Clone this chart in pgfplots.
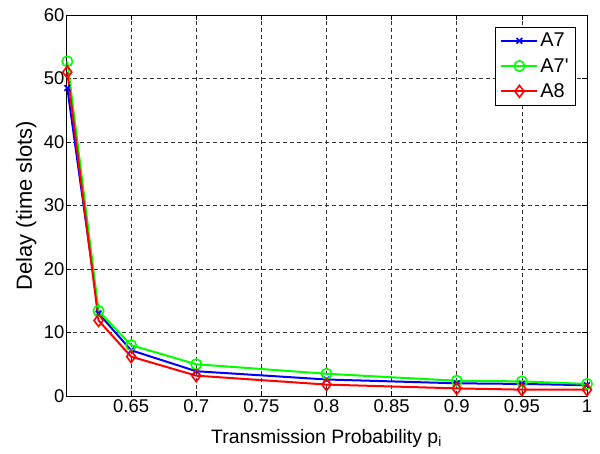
\documentclass[border=0pt]{standalone}
\usepackage{fontspec}
\setmainfont{Liberation Sans}
\usepackage{pgfplots}
\pgfplotsset{compat=1.18}

\begin{document}
\begin{tikzpicture}
\begin{axis}[
  scale only axis,
  width=521bp, height=381bp,
  xmin=0.6, xmax=1, ymin=0, ymax=60,
  xtick={0.65,0.7,0.75,0.8,0.85,0.9,0.95,1},
  xticklabels={0.65,0.7,0.75,0.8,0.85,0.9,0.95,1},
  ytick={0,10,20,30,40,50,60},
  /pgf/number format/assume math mode=true,
  tick label style={font=\fontsize{18.5}{20}\selectfont},
  yticklabel style={xshift=2bp},
  tick align=inside, major tick length=5bp,
  tick style={black, line width=0.6bp},
  axis line style={black, line width=0.9bp},
  grid=major,
  major grid style={black!80, dashed, line width=0.6bp, dash pattern=on 4bp off 3bp},
  xlabel={Transmission Probability p$_{\mathrm{i}}$},
  ylabel={Delay (time slots)},
  xlabel style={font=\fontsize{19.5}{22}\selectfont, at={(axis description cs:0.5,-0.1234)}, anchor=base},
  ylabel style={font=\fontsize{22}{24}\selectfont, at={(axis description cs:-0.0653,0.5)}, anchor=base},
  legend style={at={(axis description cs:0.979,0.969)}, anchor=north east,
    draw=black, line width=0.9bp, fill=white, font=\fontsize{20}{22}\selectfont,
    row sep=6bp, inner xsep=5bp, inner ysep=4bp},
  legend cell align=left,
  legend image code/.code={\draw[mark repeat=2,mark phase=2,#1] plot coordinates {(0bp,0bp) (18bp,0bp) (36bp,0bp)};},
]
\addplot[blue, line width=2bp, mark=x, mark size=4bp, mark options={line width=1.6bp}]
  coordinates {(0.601,48.5) (0.625,13.0) (0.65,7.2) (0.7,3.9) (0.8,2.6) (0.9,2.0) (0.95,1.9) (1,1.7)};
\addlegendentry{A7}
\addplot[green, line width=2bp, mark=o, mark size=5.2bp, mark options={line width=1.6bp}]
  coordinates {(0.601,52.7) (0.625,13.4) (0.65,8.0) (0.7,5.0) (0.8,3.5) (0.9,2.4) (0.95,2.3) (1,1.9)};
\addlegendentry{A7\textquotesingle}
\addplot[red, line width=2bp, mark=diamond, mark size=6bp, mark options={line width=1.6bp}]
  coordinates {(0.601,51.0) (0.625,11.9) (0.65,6.2) (0.7,3.2) (0.8,1.8) (0.9,1.2) (0.95,1.0) (1,1.0)};
\addlegendentry{A8}
\end{axis}
\useasboundingbox (-66bp,-58bp) rectangle (534bp,396bp);
\end{tikzpicture}
\end{document}
